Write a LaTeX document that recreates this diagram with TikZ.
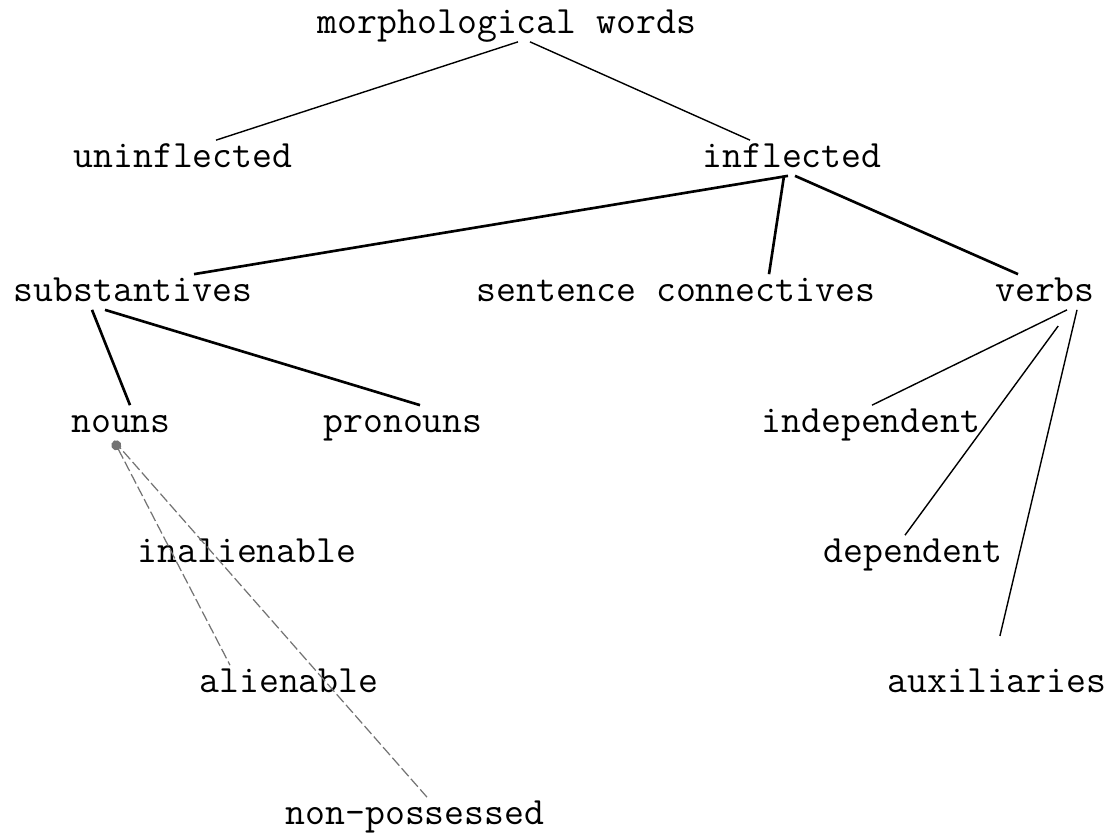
\documentclass[tikz,border=0pt]{standalone}
\usetikzlibrary{arrows.meta}

\begin{document}
\begin{tikzpicture}[
  word/.style={font=\ttfamily\fontsize{11}{13}\selectfont, inner sep=1pt,
    text height=1.5ex, text depth=0.3ex},
  branch/.style={line width=0.75pt},
  twig/.style={line width=0.4pt},
  faint/.style={line width=0.35pt, black!55, dash pattern=on 3pt off 1pt}
]
\useasboundingbox (0,0) rectangle (11.18,-8.37);

\node[word] (morph) at (5.07,-0.24) {morphological words};

\node[word] (uninf) at (1.83,-1.58) {uninflected};
\node[word] (infl)  at (7.92,-1.58) {inflected};

\node[word] (subst) at (1.33,-2.92) {substantives};
\node[word] (conn)  at (6.76,-2.92) {sentence connectives};
\node[word] (verbs) at (10.45,-2.92) {verbs};

\node[word] (nouns) at (1.21,-4.23) {nouns};
\node[word] (pron)  at (4.03,-4.23) {pronouns};
\node[word] (indep) at (8.71,-4.23) {independent};

\node[word] (inal)  at (2.47,-5.53) {inalienable};
\node[word] (dep)   at (9.13,-5.53) {dependent};

\node[word] (alien) at (2.89,-6.83) {alienable};
\node[word] (aux)   at (9.97,-6.83) {auxiliaries};

\node[word] (nonp)  at (4.15,-8.15) {non-possessed};

% erste Ebene
\draw[twig] ([xshift=1.1mm]morph.south) -- ([xshift=3.3mm]uninf.north);
\draw[twig] ([xshift=2.3mm]morph.south) -- ([xshift=-4.2mm]infl.north);

% inflected
\draw[branch] ([xshift=-0.4mm]infl.south) -- ([xshift=6.1mm]subst.north);
\draw[branch] ([xshift=-0.8mm]infl.south) -- ([xshift=9.3mm]conn.north);
\draw[branch] ([xshift=0.3mm]infl.south) -- ([xshift=-2.7mm]verbs.north);

% substantives und verbs
\draw[branch] ([xshift=-4.1mm]subst.south) -- ([xshift=0.9mm]nouns.north);
\draw[branch] ([xshift=-2.8mm]subst.south) -- ([xshift=1.7mm]pron.north);
\draw[twig] ([xshift=2.2mm]verbs.south) -- ([xshift=0.1mm]indep.north);
\draw[twig, shorten <=2mm] ([xshift=2.5mm]verbs.south) -- ([xshift=-0.8mm]dep.north);
\draw[twig, shorten >=3mm] ([xshift=3.2mm]verbs.south) -- ([xshift=-0.4mm]aux.north);

% nouns
\draw[faint, {Circle[length=1mm]}-] ([xshift=-0.7mm]nouns.south) -- ([xshift=-5.9mm]alien.north);
\draw[faint] ([xshift=-0.7mm]nouns.south) -- ([xshift=1.2mm]nonp.north);
\end{tikzpicture}
\end{document}
